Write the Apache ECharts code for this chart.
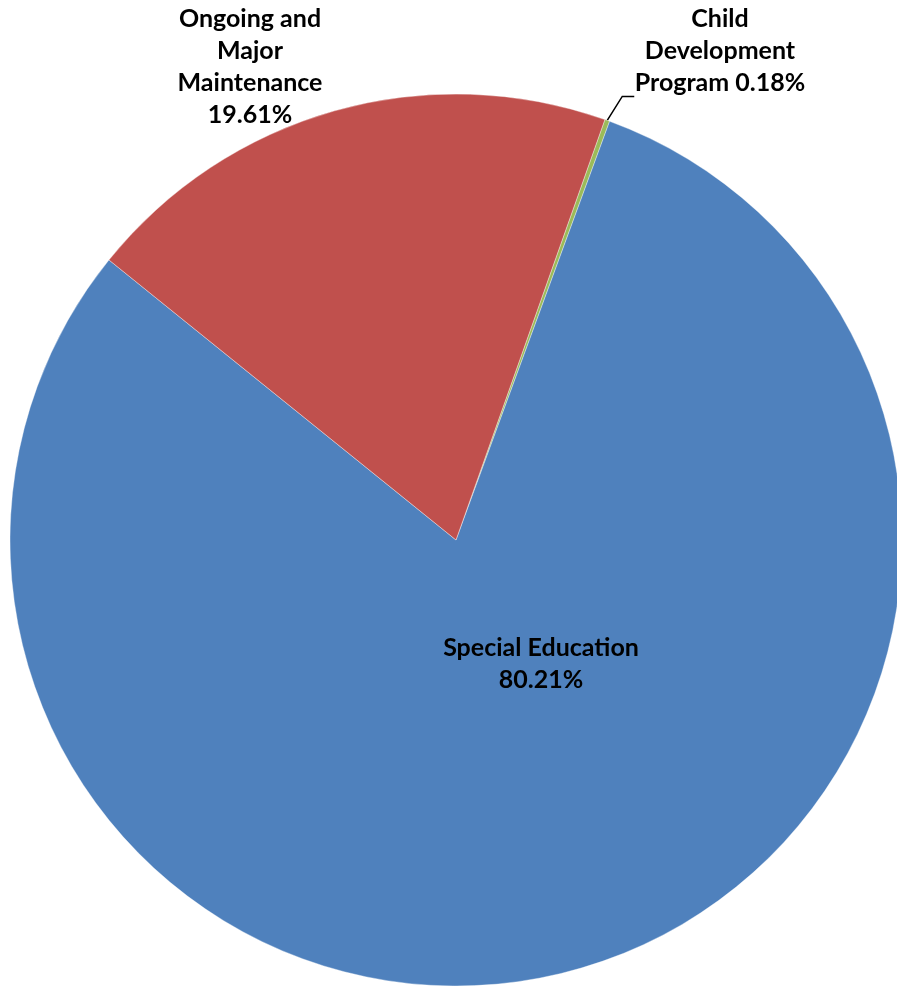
<!DOCTYPE html>
<html>
<head>
<meta charset="utf-8">
<script src="https://cdn.jsdelivr.net/npm/echarts@6/dist/echarts.min.js"></script>
<style>
  html, body { margin: 0; padding: 0; background: #fff; }
  #chart { width: 897px; height: 986px; }
</style>
</head>
<body>
<div id="chart"></div>
<script>
// shares in percent, clockwise from the small green slice
const categories = ['Child Development Program', 'Special Education', 'Ongoing and Major Maintenance']
const shares = [0.18, 80.21, 19.61]
const labelLines = [
  ['Child', 'Development', 'Program {v}%'],
  ['Special Education', '{v}%'],
  ['Ongoing and', 'Major', 'Maintenance', '{v}%'],
]
const colors = ['#9BBB59', '#4F81BD', '#C0504D']

const chart = echarts.init(document.getElementById('chart'))

// where each label block sits (centre of the text block)
const labelPos = [
  { x: 720, y: 51 },
  { x: 541, y: 664 },
  { x: 250, y: 67 },
]

chart.setOption({
  animation: false,
  series: [
    {
      type: 'pie',
      center: [456, 540],
      radius: 446,
      startAngle: 70.5,
      clockwise: true,
      avoidLabelOverlap: false,
      data: categories.map((name, i) => ({
        name,
        value: shares[i],
        itemStyle: { color: colors[i] },
        labelLine: { show: i === 0 },
      })),
      itemStyle: { borderColor: 'rgba(255,255,255,0.6)', borderWidth: 0.6 },
      label: {
        show: true,
        position: 'outside',
        fontFamily: 'Lato',
        fontWeight: 'bold',
        fontSize: 25,
        lineHeight: 32,
        color: '#000',
        formatter: (p) => labelLines[p.dataIndex].join('\n').replace('{v}', shares[p.dataIndex].toFixed(2)),
      },
      labelLine: { lineStyle: { color: '#000', width: 1.5 } },
      labelLayout: (params) => {
        const i = params.dataIndex
        const out = { x: labelPos[i].x, y: labelPos[i].y, align: 'center', verticalAlign: 'middle' }
        if (i === 0 && params.labelLinePoints) {
          const p0 = params.labelLinePoints[0]
          out.labelLinePoints = [p0, [p0[0] + 15, p0[1] - 24], [p0[0] + 27, p0[1] - 24]]
        }
        return out
      },
    },
  ],
})
</script>
</body>
</html>
